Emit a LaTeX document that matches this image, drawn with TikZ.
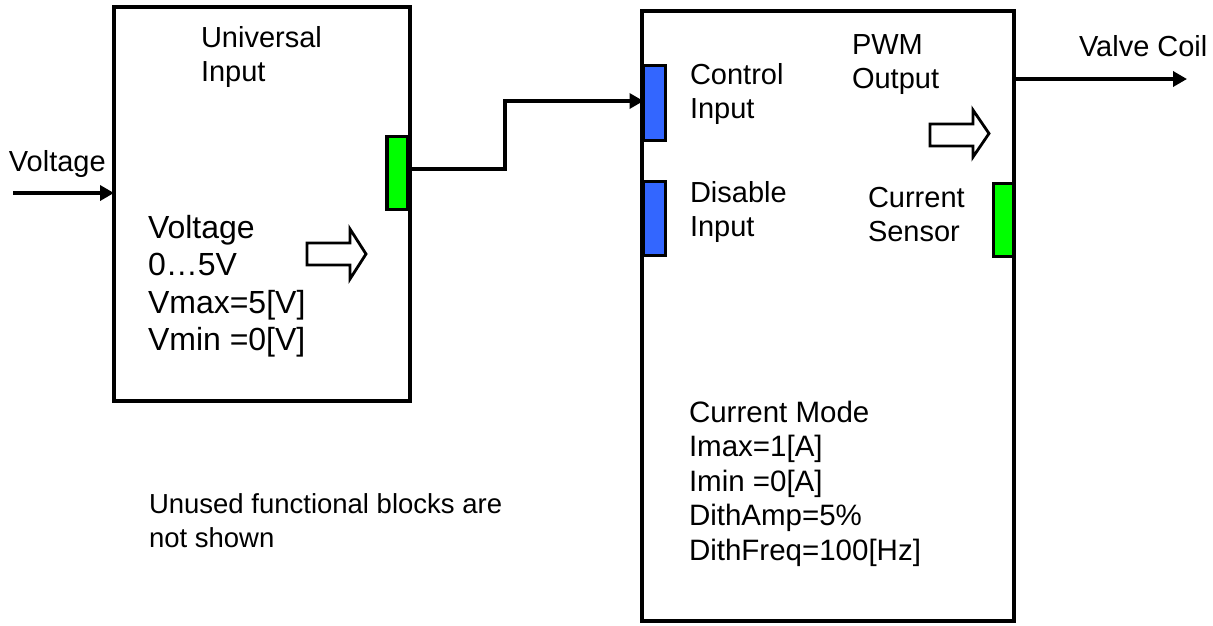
\documentclass[tikz,border=0pt]{standalone}
\usepackage{fontspec}
\setmainfont{Liberation Sans}
\usetikzlibrary{arrows.meta}
\definecolor{portgreen}{RGB}{0,255,0}
\definecolor{portblue}{RGB}{51,102,255}
\tikzset{
  block/.style={draw=black, line width=3.8pt, rectangle, inner sep=0pt, outer sep=0pt, fill=white},
  port/.style={draw=black, line width=3.8pt, rectangle, inner sep=0pt, outer sep=0pt},
  wire/.style={draw=black, line width=3.6pt, -{Triangle[length=14pt,width=15pt]}},
  hollow/.style={draw=black, line width=2.8pt, fill=white, line join=miter},
  lbl/.style={inner sep=0pt, outer sep=0pt, anchor=north west, align=left, font=\fontsize{29}{34}\selectfont},
  bigtxt/.style={inner sep=0pt, outer sep=0pt, anchor=north west, align=left, font=\fontsize{32}{37.5}\selectfont},
  modetxt/.style={inner sep=0pt, outer sep=0pt, anchor=north west, align=left, font=\fontsize{29.5}{34.5}\selectfont},
  notetxt/.style={inner sep=0pt, outer sep=0pt, anchor=north west, align=left, font=\fontsize{27.5}{34}\selectfont}
}
\begin{document}
\begin{tikzpicture}[x=1pt,y=-1pt]
\useasboundingbox (0,0) rectangle (1213,625);
% blocks
\node[block, minimum width=296pt, minimum height=394pt] (lbox) at (262,204) {};
\node[block, minimum width=372pt, minimum height=610pt] (rbox) at (828,316) {};
% ports
\node[port, fill=portgreen, minimum width=21pt, minimum height=73pt] (gport) at (397.5,173) {};
\node[port, fill=portblue, minimum width=22pt, minimum height=75pt] (cin) at (654.5,103) {};
\node[port, fill=portblue, minimum width=22pt, minimum height=74pt] (din) at (654.5,218.5) {};
\node[port, fill=portgreen, minimum width=20pt, minimum height=73pt] (csens) at (1003.5,220) {};
% hollow arrows
\draw[hollow] (307,243) -- (350,243) -- (350,229) -- (366,254) -- (350,279) -- (350,265) -- (307,265) -- cycle;
\draw[hollow] (930,124) -- (973,124) -- (973,110) -- (989,133.5) -- (973,157) -- (973,146) -- (930,146) -- cycle;
% connectors
\coordinate (vin) at (13,193);
\draw[wire] (vin) -- (vin -| lbox.west);
\draw[wire] ([yshift=4pt]gport.east) -- (505,169) |- ([yshift=2pt]cin.west);
\coordinate (vout0) at (1014,79);
\coordinate (vout) at (1187,79);
\draw[wire] (vout0) -- (vout);
% texts
\node[lbl] (tvolt) at (9,150) {Voltage};
\node[lbl] (tuni) at (201,26) {Universal\\Input};
\node[bigtxt] (tlv) at (148,215) {Voltage\\0…5V\\Vmax=5[V]\\Vmin =0[V]};
\node[lbl] (tci) at (690,63) {Control\\Input};
\node[lbl] (tdi) at (690,181) {Disable\\Input};
\node[lbl] (tpwm) at (852,35) {PWM\\Output};
\node[lbl] (tcs) at (868,187) {Current\\Sensor};
\node[lbl] (tvc) at (1079,35) {Valve Coil};
\node[modetxt] (tmode) at (689,401) {Current Mode\\Imax=1[A]\\Imin =0[A]\\DithAmp=5\%\\DithFreq=100[Hz]};
\node[notetxt] (tnote) at (149,494) {Unused functional blocks are\\not shown};
\end{tikzpicture}
\end{document}
